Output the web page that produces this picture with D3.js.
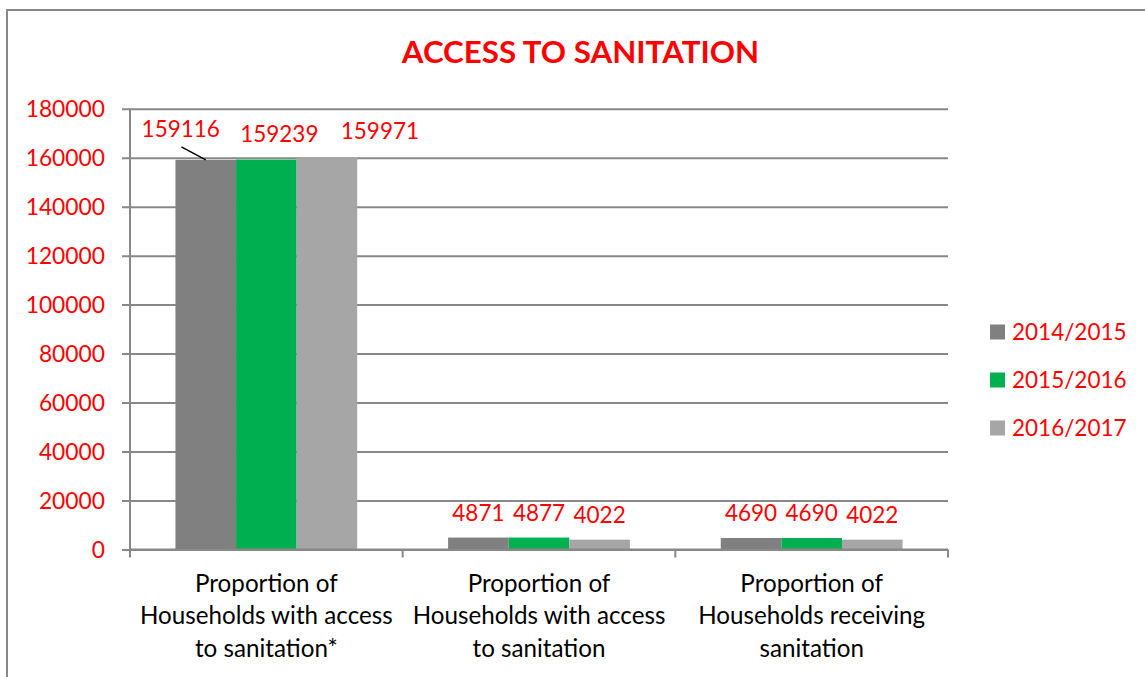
<!DOCTYPE html>
<html>
<head>
<meta charset="utf-8">
<script src="https://cdn.jsdelivr.net/npm/d3@7"></script>
<style>
  html, body { margin: 0; padding: 0; background: #fff; }
  svg { display: block; font-family: Lato, "Open Sans", sans-serif; }
</style>
</head>
<body>
<svg id="chart" width="1145" height="677"></svg>
<script>
// Household sanitation figures per financial year
const categories = [
  "Proportion of\nHouseholds with access\nto sanitation*",
  "Proportion of\nHouseholds with access\nto sanitation",
  "Proportion of\nHouseholds receiving\nsanitation"
];
const seriesNames = ["2014/2015", "2015/2016", "2016/2017"];
const values2014 = [159116, 4871, 4690];
const values2015 = [159239, 4877, 4690];
const values2016 = [159971, 4022, 4022];
const yTicks = [0, 20000, 40000, 60000, 80000, 100000, 120000, 140000, 160000, 180000];
const seriesColors = ["#808080", "#00B050", "#A6A6A6"];

const seriesValues = [values2014, values2015, values2016];
const rows = categories.map((c, i) => ({
  category: c,
  bars: seriesNames.map((s, j) => ({ category: c, series: s, value: seriesValues[j][i] }))
}));

// hand-placed labels on the tall bars (dx, dy in px, optional leader line)
const labelNudge = {
  "0|0": { dx: -25, dy: -6, leader: true },
  "0|1": { dx: 13, dy: -1 },
  "0|2": { dx: 53, dy: -1.5 }
};

const svg = d3.select("#chart");
const RED = "#FF0000";
const GRID = "#888888";
const FS = 22.5;
const CAT_FS = 24.2;

// outer chart frame
svg.append("rect")
  .attr("x", 7).attr("y", 10)
  .attr("width", 1200).attr("height", 700)
  .attr("fill", "none").attr("stroke", GRID).attr("stroke-width", 2);

// title
svg.append("text")
  .attr("x", 580.5).attr("y", 63.3)
  .attr("text-anchor", "middle")
  .attr("fill", RED)
  .attr("font-weight", "bold")
  .attr("font-size", 31.3)
  .text("ACCESS TO SANITATION");

const plotLeft = 130, plotRight = 948, plotTop = 108.7, plotBottom = 549.5;

const y = d3.scaleLinear().domain([0, 180000]).range([plotBottom, plotTop]);
const x0 = d3.scaleBand().domain(categories).range([plotLeft, plotRight]).paddingInner(0).paddingOuter(0);
const x1 = d3.scaleBand().domain(seriesNames).range([0, x0.bandwidth()]).paddingInner(0).paddingOuter(0.75);
const color = d3.scaleOrdinal().domain(seriesNames).range(seriesColors);

// horizontal gridlines with outside tick stubs
const yAxis = d3.axisLeft(y).tickValues(yTicks).tickSize(plotRight - plotLeft + 8).tickFormat(d => d).tickPadding(17);
const gy = svg.append("g").attr("transform", `translate(${plotRight},0)`).call(yAxis);
gy.select(".domain").remove();
gy.selectAll(".tick line").attr("stroke", GRID).attr("stroke-width", 2);
gy.selectAll(".tick text")
  .attr("fill", RED)
  .attr("font-size", 22.8)
  .attr("font-family", "Lato, sans-serif")
  .attr("dy", "0.35em");

// vertical axis line
svg.append("line")
  .attr("x1", plotLeft).attr("x2", plotLeft).attr("y1", plotTop).attr("y2", plotBottom)
  .attr("stroke", GRID).attr("stroke-width", 2);

// bars
const groups = svg.append("g").selectAll("g")
  .data(rows).join("g")
  .attr("transform", d => `translate(${x0(d.category)},0)`);

groups.selectAll("rect")
  .data(d => d.bars).join("rect")
  .attr("x", d => x1(d.series))
  .attr("width", x1.bandwidth())
  .attr("y", d => y(d.value))
  .attr("height", d => y(0) - y(d.value))
  .attr("fill", d => color(d.series));

// category axis with ticks between groups
const bounds = [plotLeft].concat(categories.map(c => x0(c) + x0.bandwidth()));
const gx = svg.append("g");
gx.append("line")
  .attr("x1", plotLeft).attr("x2", plotRight).attr("y1", plotBottom).attr("y2", plotBottom)
  .attr("stroke", GRID).attr("stroke-width", 2);
gx.selectAll("line.tk").data(bounds).join("line")
  .attr("class", "tk")
  .attr("x1", d => d).attr("x2", d => d)
  .attr("y1", plotBottom).attr("y2", plotBottom + 8)
  .attr("stroke", GRID).attr("stroke-width", 2);

// multi-line category labels
gx.selectAll("text.cat").data(categories).join("text")
  .attr("class", "cat")
  .attr("text-anchor", "middle")
  .attr("fill", "#000")
  .attr("font-size", CAT_FS)
  .each(function (d) {
    const t = d3.select(this);
    const cx = x0(d) + x0.bandwidth() / 2;
    d.split("\n").forEach((line, i) => {
      t.append("tspan").attr("x", cx).attr("y", 591.7 + i * 32.5).text(line);
    });
  });

// value labels
rows.forEach((row, ci) => {
  row.bars.forEach((b, si) => {
    const cx = x0(row.category) + x1(b.series) + x1.bandwidth() / 2;
    const topY = y(b.value);
    const n = labelNudge[ci + "|" + si] || { dx: 0, dy: 0 };
    const lx = cx + n.dx, ly = topY - 17 + n.dy;
    svg.append("text")
      .attr("x", lx).attr("y", ly)
      .attr("text-anchor", "middle")
      .attr("fill", RED)
      .attr("font-size", FS)
      .text(b.value);
    if (n.leader) {
      svg.append("line")
        .attr("x1", lx + 0.7).attr("y1", ly + 10)
        .attr("x2", cx).attr("y2", topY)
        .attr("stroke", "#000").attr("stroke-width", 1.5);
    }
  });
});

// legend
const legend = svg.append("g").selectAll("g")
  .data(seriesNames).join("g")
  .attr("transform", (d, i) => `translate(990,${332 + i * 48})`);
legend.append("rect")
  .attr("x", 0).attr("y", -7.5).attr("width", 15).attr("height", 15)
  .attr("fill", d => color(d));
legend.append("text")
  .attr("x", 22).attr("y", 8.2)
  .attr("fill", RED)
  .attr("font-size", FS)
  .text(d => d);
</script>
</body>
</html>
